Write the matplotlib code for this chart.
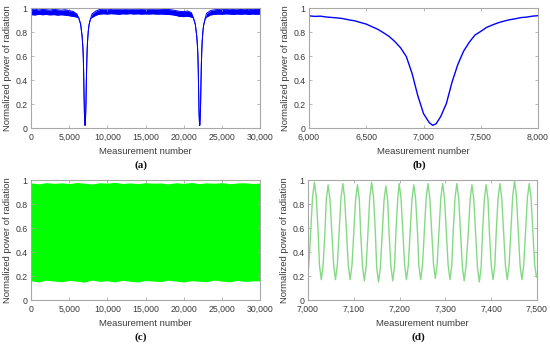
import matplotlib
matplotlib.use("Agg")
import matplotlib.pyplot as plt
from matplotlib.ticker import FuncFormatter

# (a) full run, blue: noisy plateau band (upper/lower edge) with two dips
a_x = [0, 500, 1000, 1500, 2000, 2500, 3000, 3500, 4000, 4500, 5000, 5500,
       6000, 6250, 6500, 6700, 6800, 6850, 6900, 6950, 7000, 7050, 7080, 7110,
       7150, 7200, 7250, 7300, 7350, 7400, 7500, 7600, 7800,
       8000, 8500, 9000, 9500, 10000, 10500, 11000, 11500, 12000, 12500, 13000,
       13500, 14000, 14500, 15000, 15500, 16000, 16500, 17000, 17500, 18000,
       18500, 19000, 19500, 20000, 20500, 21000,
       21270, 21520, 21720, 21820, 21870, 21920, 21970, 22020, 22070, 22100,
       22130, 22170, 22220, 22270, 22320, 22370, 22420, 22520, 22620, 22820,
       23000, 23500, 24000, 24500, 25000, 25500, 26000, 26500, 27000, 27500,
       28000, 28500, 29000, 29500, 30000]
a_upper = [.985, .990, .984, .988, .986, .983, .989, .985, .982, .986, .978, .972,
           .950, .918, .866, .762, .668, .595, .455, .270, .120, .045, .022, .035,
           .095, .205, .385, .530, .640, .715, .805, .858, .911,
           .952, .975, .988, .990, .992, .988, .993, .990, .992, .989, .993,
           .990, .991, .988, .992, .990, .989, .992, .990, .987, .988,
           .984, .978, .972, .970, .975, .962,
           .918, .866, .762, .668, .595, .455, .270, .120, .045, .022,
           .035, .095, .205, .385, .530, .640, .715, .805, .858, .911,
           .955, .978, .985, .988, .990, .986, .990, .988, .991, .987,
           .990, .986, .989, .987, .988]
a_lower = [.945, .942, .947, .944, .946, .943, .945, .941, .944, .940, .936, .930,
           .925, .918, .866, .762, .668, .595, .455, .270, .120, .045, .022, .035,
           .095, .205, .385, .530, .640, .715, .805, .858, .911,
           .922, .940, .950, .952, .950, .953, .951, .948, .952, .950, .953,
           .950, .952, .949, .951, .950, .952, .949, .950, .948, .946,
           .944, .938, .930, .928, .932, .925,
           .918, .866, .762, .668, .595, .455, .270, .120, .045, .022,
           .035, .095, .205, .385, .530, .640, .715, .805, .858, .911,
           .925, .942, .947, .950, .948, .951, .950, .947, .950, .948,
           .951, .947, .950, .948, .949]

# (b) zoom on the first dip
b_x = [6000, 6050, 6100, 6150, 6200, 6250, 6300, 6350, 6400, 6450, 6500, 6550,
       6600, 6650, 6700, 6750, 6800, 6850, 6900, 6950, 7000, 7050, 7080, 7110,
       7150, 7200, 7250, 7300, 7350, 7400, 7450, 7500, 7550, 7600, 7650, 7700,
       7750, 7800, 7850, 7900, 7950, 8000]
b_y = [.935, .930, .932, .925, .921, .917, .911, .901, .893, .879, .866, .844,
       .823, .794, .763, .720, .668, .595, .455, .270, .120, .045, .022, .035,
       .095, .205, .385, .530, .640, .715, .775, .805, .838, .858, .876, .890,
       .902, .910, .920, .924, .932, .936]

# (c) reference signal, full run: envelope of a dense oscillation
c_x = [0, 1000, 2000, 3000, 4000, 5000, 6000, 7000, 8000, 9000, 10000, 11000,
       12000, 13000, 14000, 15000, 16000, 17000, 18000, 19000, 20000, 21000,
       22000, 23000, 24000, 25000, 26000, 27000, 28000, 29000, 30000]
c_upper = [.975, .968, .978, .972, .976, .970, .979, .973, .967, .977, .974, .980,
           .971, .976, .969, .978, .973, .975, .968, .977, .972, .979, .970, .976,
           .973, .978, .969, .975, .977, .971, .974]
c_lower = [.160, .150, .165, .158, .152, .163, .157, .149, .166, .155, .160, .151,
           .164, .156, .150, .162, .158, .153, .165, .157, .150, .161, .156, .152,
           .166, .158, .151, .163, .155, .159, .160]

# (d) reference signal, zoom 7000-7500
d_x = [7000, 7002, 7006, 7010, 7014, 7018, 7022, 7025, 7029, 7033, 7037, 7040,
       7044, 7048, 7052, 7056, 7060, 7064, 7068, 7072, 7076, 7080, 7084, 7088,
       7092, 7096, 7100, 7104, 7108, 7112, 7115, 7119, 7123, 7127, 7131, 7135,
       7139, 7143, 7147, 7150, 7154, 7158, 7162, 7166, 7170, 7174, 7177, 7181,
       7185, 7189, 7192, 7196, 7199, 7203, 7207, 7211, 7215, 7219, 7223, 7227,
       7231, 7235, 7239, 7242, 7246, 7250, 7254, 7258, 7262, 7266, 7270, 7274,
       7278, 7282, 7286, 7290, 7294, 7298, 7302, 7306, 7310, 7314, 7317, 7321,
       7325, 7329, 7333, 7337, 7341, 7345, 7350, 7354, 7358, 7362, 7366, 7370,
       7374, 7378, 7381, 7385, 7389, 7393, 7396, 7400, 7404, 7408, 7411, 7415,
       7419, 7423, 7427, 7431, 7435, 7439, 7443, 7447, 7451, 7455, 7459, 7463,
       7467, 7471, 7475, 7479, 7483, 7487, 7491, 7495, 7499, 7500]
d_y = [.22, .30, .58, .86, .98, .86, .58, .29, .17, .29, .57, .84,
       .96, .84, .57, .29, .17, .29, .57, .85, .97, .85, .57, .29,
       .17, .29, .57, .84, .96, .84, .56, .28, .16, .28, .57, .86,
       .98, .86, .57, .27, .15, .27, .55, .83, .95, .83, .56, .28,
       .16, .28, .57, .85, .97, .85, .57, .29, .17, .29, .57, .84,
       .96, .84, .57, .29, .17, .29, .57, .85, .97, .85, .58, .30,
       .18, .30, .58, .85, .97, .85, .57, .29, .17, .29, .57, .85,
       .97, .85, .57, .28, .16, .28, .56, .84, .96, .84, .56, .27,
       .15, .27, .56, .84, .96, .84, .57, .29, .17, .29, .57, .85,
       .97, .85, .57, .29, .17, .29, .58, .87, .99, .87, .58, .29,
       .17, .29, .57, .85, .97, .85, .57, .29, .19, .19]

y_ticks = [0, 0.2, 0.4, 0.6, 0.8, 1]
y_labels = ["0", "0.2", "0.4", "0.6", "0.8", "1"]

plt.rcParams["font.family"] = ["Liberation Sans", "DejaVu Sans"]

fig = plt.figure(figsize=(5.5, 3.44), dpi=100)
W, H = 550.0, 344.0
boxes = [(31, 8, 260, 128), (309, 8, 538, 128), (31, 180, 260, 300), (308, 180, 537, 300)]
axes = [fig.add_axes([l / W, 1 - b / H, (r - l) / W, (b - t) / H]) for (l, t, r, b) in boxes]

comma = FuncFormatter(lambda v, p: "{:,.0f}".format(v))
spine_col = "#a8a8a8"
text_col = "#3a3a3a"


def style(ax, xlim, xticks, tag):
    ax.set_xlim(xlim)
    ax.set_ylim(0, 1)
    ax.set_xticks(xticks)
    ax.xaxis.set_major_formatter(comma)
    ax.set_yticks(y_ticks)
    ax.set_yticklabels(y_labels)
    for s in ax.spines.values():
        s.set_color(spine_col)
        s.set_linewidth(0.8)
    ax.tick_params(direction="in", length=2, width=0.6, color=spine_col,
                   top=True, right=True, labelsize=6.3, labelcolor=text_col, pad=2.5)
    ax.tick_params(axis="x", pad=3.3)
    ax.set_xlabel("Measurement number", fontsize=6.8, color=text_col)
    ax.set_ylabel("Normalized power of radiation", fontsize=6.8, color=text_col)
    ax.xaxis.set_label_coords(0.5, -0.155)
    ax.yaxis.set_label_coords(-0.085, 0.5)
    ax.text(0.48, -0.31, tag, transform=ax.transAxes, ha="center", va="center",
            fontsize=8, fontweight="bold", family="Liberation Serif", color="#111111")


ax = axes[0]
ax.fill_between(a_x, a_lower, a_upper, color="#0000ff", lw=0)
ax.plot(a_x, a_upper, color="#0000ff", lw=0.7)
ax.plot(a_x, a_lower, color="#0000ff", lw=0.7)
style(ax, (0, 30000), range(0, 30001, 5000), "(a)")

ax = axes[1]
ax.plot(b_x, b_y, color="#0000ff", lw=1.0)
style(ax, (6000, 8000), range(6000, 8001, 500), "(b)")

ax = axes[2]
ax.fill_between(c_x, c_lower, c_upper, color="#00ff00", lw=0)
style(ax, (0, 30000), range(0, 30001, 5000), "(c)")

ax = axes[3]
ax.plot(d_x, d_y, color="#84da84", lw=1.0)
style(ax, (7000, 7500), range(7000, 7501, 100), "(d)")

fig.savefig("out.png", dpi=100)
